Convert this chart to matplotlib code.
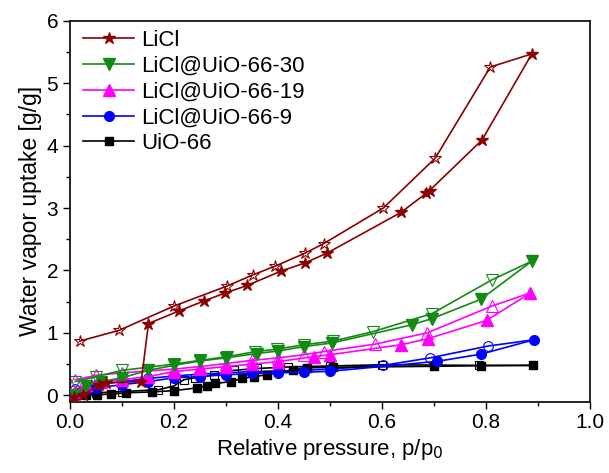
import numpy as np
import matplotlib as mpl
mpl.use('Agg')
from matplotlib import pyplot as plt
from matplotlib.ticker import MultipleLocator

plt.rcParams['font.family'] = ['Liberation Sans', 'DejaVu Sans']

# ---------- data: adsorption (filled) / desorption (open) ----------
licl_ads_x = [0.008, 0.025, 0.055, 0.07, 0.137, 0.151, 0.209, 0.257, 0.299, 0.341, 0.406, 0.452, 0.495, 0.637, 0.686, 0.692, 0.793, 0.889]
licl_ads_y = [-0.02, 0.0, 0.17, 0.2, 0.22, 1.15, 1.35, 1.51, 1.64, 1.76, 1.99, 2.12, 2.28, 2.93, 3.24, 3.28, 4.09, 5.47]
licl_des_x = [0.889, 0.809, 0.703, 0.603, 0.488, 0.453, 0.395, 0.352, 0.302, 0.2, 0.094, 0.019]
licl_des_y = [5.47, 5.26, 3.8, 3.0, 2.43, 2.28, 2.07, 1.93, 1.75, 1.43, 1.04, 0.87]

g30_ads_x = [0.01, 0.03, 0.06, 0.1, 0.15, 0.2, 0.25, 0.3, 0.36, 0.4, 0.45, 0.505, 0.658, 0.697, 0.791, 0.889]
g30_ads_y = [0.0, 0.15, 0.22, 0.28, 0.4, 0.48, 0.55, 0.6, 0.67, 0.71, 0.78, 0.84, 1.13, 1.23, 1.54, 2.15]
g30_des_x = [0.889, 0.812, 0.697, 0.583, 0.507, 0.45, 0.398, 0.357, 0.302, 0.25, 0.2, 0.1, 0.05, 0.01]
g30_des_y = [2.15, 1.85, 1.31, 1.02, 0.87, 0.81, 0.74, 0.70, 0.62, 0.56, 0.5, 0.4, 0.3, 0.22]

g19_ads_x = [0.01, 0.03, 0.06, 0.1, 0.15, 0.2, 0.25, 0.3, 0.35, 0.4, 0.47, 0.5, 0.637, 0.69, 0.802, 0.886]
g19_ads_y = [0.05, 0.17, 0.22, 0.25, 0.3, 0.38, 0.42, 0.46, 0.5, 0.54, 0.62, 0.65, 0.81, 0.91, 1.2, 1.64]
g19_des_x = [0.886, 0.812, 0.687, 0.587, 0.488, 0.45, 0.4, 0.35, 0.3, 0.25, 0.2, 0.1, 0.05, 0.01]
g19_des_y = [1.64, 1.43, 1.0, 0.82, 0.70, 0.65, 0.6, 0.56, 0.51, 0.46, 0.42, 0.36, 0.32, 0.25]

g9_ads_x = [0.01, 0.03, 0.05, 0.1, 0.15, 0.2, 0.25, 0.3, 0.35, 0.4, 0.45, 0.5, 0.707, 0.791, 0.893]
g9_ads_y = [0.0, 0.08, 0.12, 0.17, 0.22, 0.28, 0.3, 0.33, 0.35, 0.36, 0.37, 0.385, 0.545, 0.66, 0.89]
g9_des_x = [0.893, 0.805, 0.693, 0.603, 0.5, 0.45, 0.4, 0.35, 0.3, 0.25, 0.2, 0.15, 0.1, 0.05, 0.01]
g9_des_y = [0.89, 0.79, 0.6, 0.48, 0.42, 0.40, 0.39, 0.38, 0.36, 0.34, 0.31, 0.27, 0.22, 0.17, 0.1]

uio_ads_x = [0.01, 0.03, 0.052, 0.078, 0.107, 0.158, 0.2, 0.245, 0.264, 0.28, 0.309, 0.331, 0.355, 0.379, 0.43, 0.456, 0.507, 0.701, 0.791, 0.891]
uio_ads_y = [0.0, 0.0, 0.01, 0.02, 0.04, 0.055, 0.075, 0.12, 0.155, 0.19, 0.22, 0.27, 0.3, 0.33, 0.41, 0.44, 0.45, 0.465, 0.475, 0.48]
uio_des_x = [0.891, 0.787, 0.6, 0.5, 0.42, 0.36, 0.315, 0.277, 0.24, 0.219, 0.2, 0.17, 0.1, 0.05, 0.01]
uio_des_y = [0.48, 0.48, 0.49, 0.47, 0.455, 0.43, 0.4, 0.33, 0.28, 0.25, 0.15, 0.09, 0.06, 0.04, 0.02]

labels = ['LiCl', 'LiCl@UiO-66-30', 'LiCl@UiO-66-19', 'LiCl@UiO-66-9', 'UiO-66']
colors = ['#8B0000', '#138A13', '#FF00FF', '#0000FF', '#000000']
markers = ['*', 'v', '^', 'o', 's']
msizes = [9, 8, 8, 7, 6]

series = [(licl_ads_x, licl_ads_y, licl_des_x, licl_des_y),
          (g30_ads_x, g30_ads_y, g30_des_x, g30_des_y),
          (g19_ads_x, g19_ads_y, g19_des_x, g19_des_y),
          (g9_ads_x, g9_ads_y, g9_des_x, g9_des_y),
          (uio_ads_x, uio_ads_y, uio_des_x, uio_des_y)]

fig = plt.figure(figsize=(6.09, 4.73), dpi=100)
ax = fig.add_axes([0.115, 0.151, 0.853, 0.805])

# draw back to front so LiCl ends up on top
for i in reversed(range(len(series))):
    ax_, ay_, dx_, dy_ = series[i]
    ax.plot(dx_, dy_, color=colors[i], lw=1.2, marker=markers[i], ms=msizes[i],
            mfc='none', mec=colors[i], mew=0.8, markevery=slice(1, None), zorder=2)
    ax.plot(ax_, ay_, color=colors[i], lw=1.2, marker=markers[i], ms=msizes[i],
            mfc=colors[i], mec=colors[i], label=labels[i], zorder=3)

handles, labs = ax.get_legend_handles_labels()
ax.legend(handles[::-1], labs[::-1], loc='upper left', frameon=False, fontsize=16,
          handlelength=2.3, handletextpad=0.3, labelspacing=0.22,
          borderaxespad=0.0, bbox_to_anchor=(0.008, 1.0))

ax.set_xlim(0, 1.0)
ax.set_ylim(-0.1, 6)
ax.xaxis.set_major_locator(MultipleLocator(0.2))
ax.xaxis.set_minor_locator(MultipleLocator(0.1))
ax.yaxis.set_major_locator(MultipleLocator(1))
ax.yaxis.set_minor_locator(MultipleLocator(0.5))
ax.set_xticks(np.arange(0, 1.01, 0.2))
ax.set_xticklabels(['%.1f' % v for v in np.arange(0, 1.01, 0.2)])
ax.tick_params(which='major', direction='out', length=5, width=1, labelsize=15)
ax.tick_params(which='minor', direction='out', length=3, width=1)
for sp in ax.spines.values():
    sp.set_linewidth(1.2)

ax.set_xlabel('Relative pressure, p/p$_0$', fontsize=16, labelpad=3)
ax.set_ylabel('Water vapor uptake [g/g]', fontsize=16.5, labelpad=3)

plt.savefig('out.png', dpi=100, facecolor='w')
